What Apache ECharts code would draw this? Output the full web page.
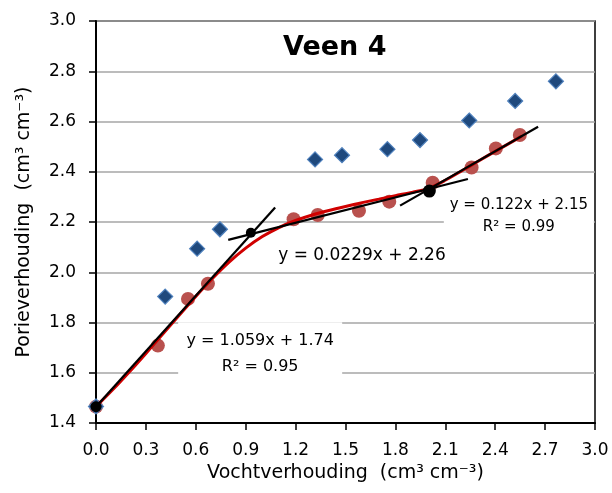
<!DOCTYPE html>
<html>
<head>
<meta charset="utf-8">
<script src="https://cdn.jsdelivr.net/npm/echarts@6/dist/echarts.min.js"></script>
<style>
html,body{margin:0;padding:0;background:#fff;}
#chart{width:612px;height:493px;}
</style>
</head>
<body>
<div id="chart"></div>
<script>
// ---- data ----
var xTicks = [0.0, 0.3, 0.6, 0.9, 1.2, 1.5, 1.8, 2.1, 2.4, 2.7, 3.0];
var yTicks = [1.4, 1.6, 1.8, 2.0, 2.2, 2.4, 2.6, 2.8, 3.0];

// red circles
var circleX = [0.0, 0.372, 0.553, 0.673, 1.188, 1.333, 1.581, 1.763, 2.024, 2.258, 2.404, 2.548];
var circleY = [1.465, 1.708, 1.894, 1.954, 2.211, 2.228, 2.245, 2.281, 2.356, 2.417, 2.493, 2.546];

// blue diamonds
var diamondX = [0.0, 0.416, 0.608, 0.745, 1.317, 1.479, 1.752, 1.948, 2.244, 2.520, 2.765];
var diamondY = [1.466, 1.903, 2.094, 2.171, 2.449, 2.466, 2.490, 2.526, 2.604, 2.682, 2.760];

// red fitted curve
var curveX = [0.0, 0.1, 0.2, 0.3, 0.4, 0.5, 0.6, 0.7, 0.8, 0.9, 1.0, 1.1, 1.2, 1.3, 1.4, 1.5, 1.6, 1.7, 1.8, 1.9, 2.0, 2.1, 2.2, 2.3, 2.4, 2.5, 2.56];
var curveY = [1.465, 1.532, 1.603, 1.677, 1.753, 1.829, 1.904, 1.975, 2.040, 2.096, 2.142, 2.178, 2.206, 2.228, 2.246, 2.262, 2.277, 2.291, 2.305, 2.318, 2.334, 2.366, 2.404, 2.443, 2.481, 2.519, 2.542];

// tangent lines (end points)
var line1X = [0.0, 1.077], line1Y = [1.465, 2.258];
var line2X = [0.795, 2.236], line2Y = [2.129, 2.371];
var line3X = [1.828, 2.658], line3Y = [2.265, 2.579];

// black intersection dots
var dotX = [0.0, 0.931, 2.004];
var dotY = [1.465, 2.157, 2.323];
var dotSize = [11, 10, 13];

var titleText = 'Veen 4';
var xName = 'Vochtverhouding  (cm³ cm⁻³)';
var yName = 'Porieverhouding  (cm³ cm⁻³)';

var eq1 = 'y = 1.059x + 1.74\nR² = 0.95';
var eq2 = 'y = 0.0229x + 2.26';
var eq3 = 'y = 0.122x + 2.15\nR² = 0.99';

function zip(a, b) { return a.map(function (v, i) { return [v, b[i]]; }); }

var FONT = '"DejaVu Sans", sans-serif';

var chart = echarts.init(document.getElementById('chart'), null, {renderer: 'canvas'});
var option = {
  animation: false,
  backgroundColor: '#fff',
  title: {
    text: titleText,
    left: 278, top: 29,
    textStyle: {fontFamily: FONT, fontSize: 27, fontWeight: 'bold', color: '#000'}
  },
  grid: {left: 96, right: 17, top: 21, bottom: 70, show: true, borderColor: '#000', borderWidth: 1.5, backgroundColor: 'transparent'},
  xAxis: {
    type: 'value', min: 0, max: 3.0, interval: 0.3,
    name: xName, nameLocation: 'middle', nameGap: 41,
    nameTextStyle: {fontFamily: FONT, fontSize: 19, color: '#000'},
    axisLine: {show: true, onZero: false, lineStyle: {color: '#000', width: 2}},
    axisTick: {show: true, inside: false, length: 7, lineStyle: {color: '#000', width: 1.5}},
    axisLabel: {fontFamily: FONT, fontSize: 17, color: '#000', margin: 19,
      formatter: function (v) { return v.toFixed(1); }},
    splitLine: {show: false}
  },
  yAxis: {
    type: 'value', min: 1.4, max: 3.0, interval: 0.2,
    name: yName, nameLocation: 'middle', nameGap: 62, nameRotate: 90,
    nameTextStyle: {fontFamily: FONT, fontSize: 19, color: '#000'},
    axisLine: {show: true, onZero: false, lineStyle: {color: '#000', width: 2}},
    axisTick: {show: true, inside: false, length: 7, lineStyle: {color: '#000', width: 1.5}},
    axisLabel: {fontFamily: FONT, fontSize: 17, color: '#000', margin: 20,
      formatter: function (v) { return v.toFixed(1); }},
    splitLine: {show: true, lineStyle: {color: '#A6A6A6', width: 1.5}}
  },
  series: [
    {
      type: 'scatter', name: 'circles', data: zip(circleX, circleY),
      symbol: 'circle', symbolSize: 14,
      itemStyle: {color: '#B9514E', opacity: 1}, z: 2
    },
    {
      type: 'scatter', name: 'diamonds', data: zip(diamondX, diamondY),
      symbol: 'diamond', symbolSize: 15,
      itemStyle: {color: '#1F497D', borderColor: '#4F81BD', borderWidth: 1.2, opacity: 1}, z: 3
    },
    {
      type: 'line', name: 'curve', data: zip(curveX, curveY), smooth: 0.3,
      showSymbol: false, symbol: 'none',
      lineStyle: {color: '#D00000', width: 3}, z: 4
    },
    {
      type: 'line', data: zip(line1X, line1Y), showSymbol: false, symbol: 'none',
      lineStyle: {color: '#000', width: 2.2}, z: 5
    },
    {
      type: 'line', data: zip(line2X, line2Y), showSymbol: false, symbol: 'none',
      lineStyle: {color: '#000', width: 2.2}, z: 5
    },
    {
      type: 'line', data: zip(line3X, line3Y), showSymbol: false, symbol: 'none',
      lineStyle: {color: '#000', width: 2.2}, z: 5
    },
    {
      type: 'scatter', name: 'dots',
      data: dotX.map(function (x, i) { return {value: [x, dotY[i]], symbolSize: dotSize[i]}; }),
      symbol: 'circle', itemStyle: {color: '#000', opacity: 1}, z: 6
    },
    {
      type: 'scatter', name: 'annotations', symbolSize: 0, silent: true, z: 10,
      itemStyle: {opacity: 1},
      data: [
        {value: [0.987, 1.674], label: {show: true, formatter: eq1, position: 'inside',
          fontFamily: FONT, fontSize: 16, color: '#000', lineHeight: 26, align: 'center',
          backgroundColor: '#fff', width: 152, padding: [8, 6, 4, 6]}},
        {value: [1.599, 2.065], label: {show: true, formatter: eq2, position: 'inside',
          fontFamily: FONT, fontSize: 17, color: '#000', lineHeight: 24, align: 'center'}},
        {value: [2.542, 2.222], label: {show: true, formatter: eq3, position: 'inside',
          fontFamily: FONT, fontSize: 15, color: '#000', lineHeight: 22, align: 'center',
          backgroundColor: '#fff', width: 140, padding: [4, 5, 4, 5]}}
      ]
    }
  ]
};
chart.setOption(option);
</script>
</body>
</html>
